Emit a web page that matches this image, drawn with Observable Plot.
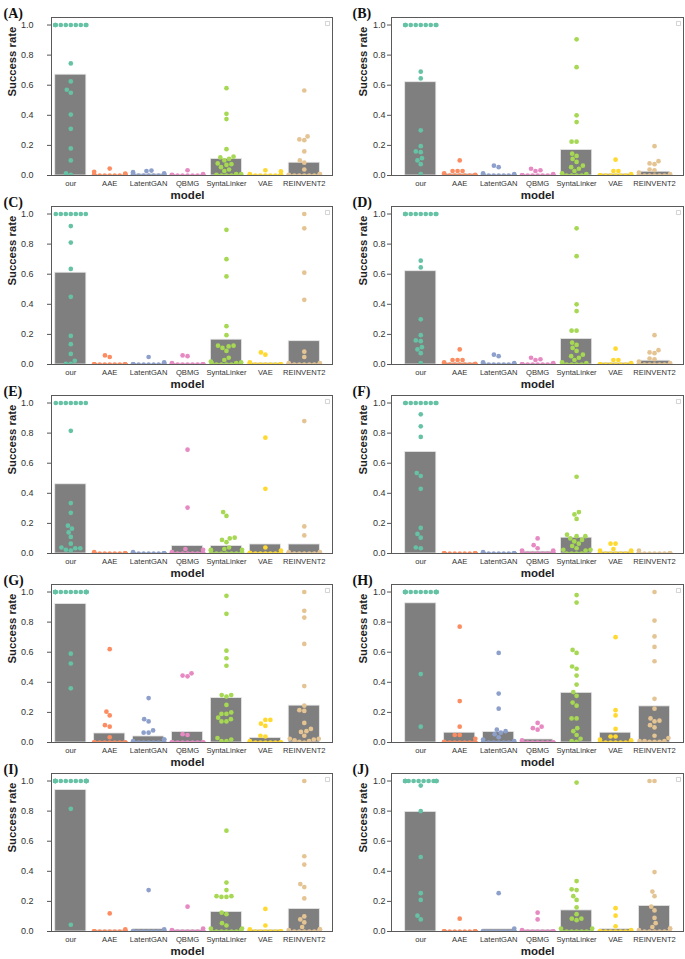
<!DOCTYPE html>
<html><head><meta charset="utf-8">
<script src="https://cdn.jsdelivr.net/npm/d3@7"></script>
<script src="https://cdn.jsdelivr.net/npm/@observablehq/plot@0.6"></script>
<style>
html,body{margin:0;padding:0;background:#fff;}
#fig{position:relative;width:685px;height:959px;overflow:hidden;background:#fff;}
#fig > div{position:absolute;}
</style></head><body><div id="fig"></div>
<script>
const models = ["our","AAE","LatentGAN","QBMG","SyntaLinker","VAE","REINVENT2"];
const colors = ["#66c2a5","#fc8d62","#8da0cb","#e78ac3","#a6d854","#ffd92f","#e5c494"];
const yTicks = [0, 0.2, 0.4, 0.6, 0.8, 1.0];
const panelLetters = ["(A)","(B)","(C)","(D)","(E)","(F)","(G)","(H)","(I)","(J)"];
const xLabel = "model";
const yLabel = "Success rate";

// bar heights (mean success rate) per panel, in model order
const barsA = [0.67, 0.005, 0.008, 0.004, 0.11, 0.005, 0.085];
const barsB = [0.62, 0.01, 0.006, 0.006, 0.17, 0.009, 0.025];
const barsC = [0.61, 0.006, 0.003, 0.006, 0.165, 0.008, 0.155];
const barsD = [0.62, 0.01, 0.006, 0.006, 0.17, 0.009, 0.025];
const barsE = [0.46, 0.001, 0.001, 0.05, 0.05, 0.06, 0.06];
const barsF = [0.675, 0, 0.001, 0.012, 0.105, 0.01, 0.001];
const barsG = [0.92, 0.06, 0.04, 0.07, 0.295, 0.03, 0.245];
const barsH = [0.925, 0.065, 0.07, 0.02, 0.33, 0.065, 0.24];
const barsI = [0.94, 0.007, 0.015, 0.01, 0.13, 0.01, 0.15];
const barsJ = [0.795, 0.004, 0.014, 0.01, 0.14, 0.015, 0.17];

// individual success rates per panel: [our, AAE, LatentGAN, QBMG, SyntaLinker, VAE, REINVENT2]
const dotsA = [
  [1,1,1,1,1,1,1,1,1,1,0.745,0.625,0.57,0.55,0.405,0.31,0.18,0.1,0.015,0.005],
  [0.046,0.025,0.012,0.01,0.005,0,0,0,0,0,0,0,0,0,0,0,0,0,0,0],
  [0.033,0.03,0.022,0.015,0.01,0.005,0,0,0,0,0,0,0,0,0,0,0,0,0,0],
  [0.035,0.01,0.005,0,0,0,0,0,0,0,0,0,0,0,0,0,0,0,0,0],
  [0.58,0.41,0.375,0.175,0.125,0.12,0.11,0.1,0.08,0.075,0.07,0.055,0.04,0.03,0.01,0.01,0.005,0,0,0],
  [0.035,0.027,0.01,0.005,0,0,0,0,0,0,0,0,0,0,0,0,0,0,0,0],
  [0.565,0.26,0.24,0.235,0.16,0.1,0.085,0.04,0.01,0.01,0.005,0,0,0,0,0,0,0,0,0]
];
const dotsB = [
  [1,1,1,1,1,1,1,1,1,1,0.69,0.645,0.3,0.195,0.16,0.155,0.115,0.1,0.075,0.01],
  [0.1,0.03,0.03,0.03,0.015,0.005,0,0,0,0,0,0,0,0,0,0,0,0,0,0],
  [0.065,0.055,0.015,0.01,0,0,0,0,0,0,0,0,0,0,0,0,0,0,0,0],
  [0.045,0.035,0.03,0.01,0,0,0,0,0,0,0,0,0,0,0,0,0,0,0,0],
  [0.905,0.72,0.4,0.355,0.225,0.225,0.145,0.13,0.11,0.09,0.065,0.055,0.045,0.03,0.015,0.01,0,0,0,0],
  [0.105,0.03,0.03,0.01,0,0,0,0,0,0,0,0,0,0,0,0,0,0,0,0],
  [0.195,0.095,0.08,0.075,0.04,0.035,0.02,0.01,0.005,0,0,0,0,0,0,0,0,0,0,0]
];
const dotsC = [
  [1,1,1,1,1,1,1,0.92,0.81,0.635,0.45,0.19,0.135,0.07,0.025,0.005,0.005],
  [0.06,0.05,0,0,0,0,0,0,0,0,0,0,0,0,0,0,0,0,0,0],
  [0.05,0.015,0,0,0,0,0,0,0,0,0,0,0,0,0,0,0,0,0,0],
  [0.06,0.055,0.01,0,0,0,0,0,0,0,0,0,0,0,0,0,0,0,0,0],
  [0.895,0.7,0.585,0.255,0.195,0.125,0.125,0.12,0.11,0.09,0.045,0.03,0.02,0.015,0.01,0.01,0,0,0,0],
  [0.08,0.065,0.015,0,0,0,0,0,0,0,0,0,0,0,0,0,0,0,0,0],
  [1,0.905,0.61,0.43,0.085,0.05,0.01,0.01,0,0,0,0,0,0,0,0,0,0,0,0]
];
const dotsD = [
  [1,1,1,1,1,1,1,1,1,1,0.69,0.645,0.3,0.195,0.16,0.155,0.115,0.1,0.075,0.01],
  [0.1,0.03,0.03,0.03,0.015,0.005,0,0,0,0,0,0,0,0,0,0,0,0,0,0],
  [0.065,0.055,0.015,0.01,0,0,0,0,0,0,0,0,0,0,0,0,0,0,0,0],
  [0.045,0.035,0.03,0.01,0,0,0,0,0,0,0,0,0,0,0,0,0,0,0,0],
  [0.905,0.72,0.4,0.355,0.225,0.225,0.145,0.13,0.11,0.09,0.065,0.055,0.045,0.03,0.015,0.01,0,0,0,0],
  [0.105,0.03,0.03,0.01,0,0,0,0,0,0,0,0,0,0,0,0,0,0,0,0],
  [0.195,0.095,0.08,0.075,0.04,0.035,0.02,0.01,0.005,0,0,0,0,0,0,0,0,0,0,0]
];
const dotsE = [
  [1,1,1,1,1,1,1,0.815,0.335,0.27,0.185,0.165,0.14,0.11,0.065,0.04,0.035,0.035,0.025,0.02],
  [0.01,0,0,0,0,0,0,0,0,0,0,0,0,0,0,0,0,0,0,0],
  [0.01,0,0,0,0,0,0,0,0,0,0,0,0,0,0,0,0,0,0,0],
  [0.69,0.305,0.03,0.025,0.01,0,0,0,0,0,0,0,0,0,0,0,0,0,0,0],
  [0.275,0.25,0.105,0.1,0.09,0.075,0.04,0.03,0.025,0.025,0.02,0.01,0,0,0,0,0,0,0,0],
  [0.77,0.43,0.04,0.02,0.005,0,0,0,0,0,0,0,0,0,0,0,0,0,0,0],
  [0.88,0.18,0.12,0.01,0.01,0,0,0,0,0,0,0,0,0,0,0,0,0,0,0]
];
const dotsF = [
  [1,1,1,1,1,1,1,1,1,0.925,0.845,0.775,0.535,0.515,0.43,0.17,0.13,0.105,0.04,0.035],
  [0,0,0,0,0,0,0,0,0,0,0,0,0,0,0,0,0,0,0,0],
  [0.01,0,0,0,0,0,0,0,0,0,0,0,0,0,0,0,0,0,0,0],
  [0.1,0.055,0.035,0.02,0.02,0.01,0,0,0,0,0,0,0,0,0,0,0,0,0,0],
  [0.51,0.275,0.26,0.23,0.125,0.115,0.115,0.1,0.09,0.08,0.065,0.05,0.035,0.025,0.025,0.02,0,0,0,0],
  [0.065,0.065,0.03,0.02,0.02,0.01,0,0,0,0,0,0,0,0,0,0,0,0,0,0],
  [0.02,0,0,0,0,0,0,0,0,0,0,0,0,0,0,0,0,0,0,0]
];
const dotsG = [
  [1,1,1,1,1,1,1,1,1,1,1,1,1,1,1,1,1,0.59,0.525,0.36],
  [0.62,0.205,0.18,0.115,0.105,0.035,0,0,0,0,0,0,0,0,0,0,0,0,0,0],
  [0.295,0.155,0.14,0.08,0.065,0.065,0.02,0.02,0.01,0,0,0,0,0,0,0,0,0,0,0],
  [0.46,0.445,0.44,0.055,0.05,0,0,0,0,0,0,0,0,0,0,0,0,0,0,0],
  [0.975,0.855,0.61,0.56,0.51,0.315,0.315,0.305,0.25,0.2,0.19,0.19,0.165,0.155,0.14,0.14,0.03,0.02,0.01,0.01],
  [0.15,0.15,0.125,0.11,0.045,0.04,0.01,0,0,0,0,0,0,0,0,0,0,0,0,0],
  [1,0.875,0.83,0.655,0.375,0.245,0.215,0.21,0.13,0.09,0.075,0.07,0.045,0.025,0.025,0.02,0.015,0.01,0.005,0]
];
const dotsH = [
  [1,1,1,1,1,1,1,1,1,1,1,1,1,1,1,1,1,1,0.455,0.105],
  [0.77,0.275,0.105,0.05,0.05,0.025,0.005,0,0,0,0,0,0,0,0,0,0,0,0,0],
  [0.595,0.325,0.225,0.085,0.075,0.065,0.055,0.035,0.02,0.01,0,0,0,0,0,0,0,0,0,0],
  [0.13,0.105,0.095,0.085,0.015,0,0,0,0,0,0,0,0,0,0,0,0,0,0,0],
  [0.98,0.93,0.615,0.595,0.505,0.49,0.445,0.385,0.335,0.31,0.265,0.245,0.16,0.16,0.095,0.075,0.05,0.025,0.01,0.005],
  [0.7,0.215,0.18,0.09,0.04,0.04,0.02,0.015,0,0,0,0,0,0,0,0,0,0,0,0],
  [1,0.81,0.705,0.635,0.54,0.29,0.225,0.16,0.145,0.14,0.115,0.1,0.045,0.03,0.01,0.01,0.01,0.005,0.005,0.005]
];
const dotsI = [
  [1,1,1,1,1,1,1,1,1,1,1,1,1,1,1,1,1,1,0.815,0.045],
  [0.12,0.015,0,0,0,0,0,0,0,0,0,0,0,0,0,0,0,0,0,0],
  [0.275,0.015,0,0,0,0,0,0,0,0,0,0,0,0,0,0,0,0,0,0],
  [0.165,0.02,0.01,0,0,0,0,0,0,0,0,0,0,0,0,0,0,0,0,0],
  [0.67,0.325,0.275,0.235,0.235,0.23,0.23,0.125,0.115,0.055,0.04,0.02,0.02,0.01,0,0,0,0,0,0],
  [0.15,0.04,0.015,0,0,0,0,0,0,0,0,0,0,0,0,0,0,0,0,0],
  [1,0.5,0.445,0.315,0.295,0.22,0.1,0.08,0.06,0.03,0.015,0.015,0.01,0,0,0,0,0,0,0]
];
const dotsJ = [
  [1,1,1,1,1,1,1,1,1,1,1,1,1,0.97,0.8,0.495,0.255,0.21,0.105,0.08],
  [0.085,0,0,0,0,0,0,0,0,0,0,0,0,0,0,0,0,0,0,0],
  [0.255,0.02,0,0,0,0,0,0,0,0,0,0,0,0,0,0,0,0,0,0],
  [0.125,0.08,0.01,0,0,0,0,0,0,0,0,0,0,0,0,0,0,0,0,0],
  [0.99,0.335,0.28,0.275,0.235,0.21,0.16,0.115,0.085,0.085,0.075,0.02,0.02,0,0,0,0,0,0,0],
  [0.155,0.105,0.035,0.01,0,0,0,0,0,0,0,0,0,0,0,0,0,0,0,0],
  [1,1,0.395,0.265,0.235,0.165,0.14,0.09,0.055,0.03,0.02,0.02,0.01,0,0,0,0,0,0,0]
];

const allBars = [barsA, barsB, barsC, barsD, barsE, barsF, barsG, barsH, barsI, barsJ];
const allDots = [dotsA, dotsB, dotsC, dotsD, dotsE, dotsF, dotsG, dotsH, dotsI, dotsJ];

const DOT_R = 2.35, SPACING = 5, Y_MAX = 1.05;

// beeswarm layout (seaborn-like): returns pixel offsets from category centre
function swarm(vals, pxPerY, half) {
  const pts = vals.map((v, j) => ({j, y: v * pxPerY, x: 0}));
  const order = pts.slice().sort((a, b) => a.y - b.y);
  const placed = [];
  const d2 = SPACING * SPACING;
  for (const p of order) {
    const near = placed.filter(q => Math.abs(q.y - p.y) < SPACING);
    const cands = [0];
    for (const q of near) {
      const h = Math.sqrt(d2 - (q.y - p.y) ** 2);
      cands.push(q.x - h, q.x + h);
    }
    cands.sort((a, b) => Math.abs(a) - Math.abs(b));
    let best = cands[0];
    for (const c of cands) {
      if (near.every(q => (q.x - c) ** 2 + (q.y - p.y) ** 2 >= d2 - 1e-6)) { best = c; break; }
    }
    p.x = best;
    placed.push(p);
  }
  return pts.map(p => Math.max(-half, Math.min(half, p.x)));
}

const fig = document.getElementById("fig");
const FONT = "'Liberation Sans', Arial, Helvetica, sans-serif";

allBars.forEach((bars, k) => {
  const col = k % 2, row = Math.floor(k / 2);
  const width = col ? 345 : 340;
  const mL = 51, mR = col ? 2 : 8, mT = 17, mB = 36, H = 211;
  const xDom = col ? [-0.751, 6.744] : [-0.496, 6.725];
  const fw = width - mL - mR, fh = H - mT - mB;
  const stepPx = fw / (xDom[1] - xDom[0]);
  const pxPerY = fh / Y_MAX;
  const half = 0.4 * stepPx;

  const dotRows = [];
  allDots[k].forEach((vals, i) => {
    const offs = swarm(vals, pxPerY, half);
    vals.forEach((v, j) => dotRows.push({model: models[i], x: i + offs[j] / stepPx, y: v}));
  });
  const barRows = bars.map((v, i) => ({model: models[i], x1: i - 0.4, x2: i + 0.4, y: v}));

  const svg = Plot.plot({
    width, height: H,
    marginLeft: mL, marginRight: mR, marginTop: mT, marginBottom: mB,
    style: `background: transparent; overflow: visible; font-family: ${FONT};`,
    x: {type: "linear", domain: xDom, axis: null},
    y: {type: "linear", domain: [0, Y_MAX], axis: null},
    color: {domain: models, range: colors},
    marks: [
      Plot.rectY(barRows, {x1: "x1", x2: "x2", y1: 0, y2: "y", fill: "#7f7f7f", stroke: "#e8e8e8", strokeWidth: 0.8}),
      Plot.dot(dotRows, {x: "x", y: "y", r: DOT_R, fill: "model", clip: true}),
      Plot.axisY(yTicks, {tickFormat: d3.format(".1f"), tickSize: 4, tickPadding: col ? 2 : 14,
        fontSize: 9, stroke: "#555", fill: "#333", label: null}),
      Plot.axisX(models.map((m, i) => i), {tickFormat: i => models[i], tickSize: 0, tickPadding: 5,
        fontSize: 7.6, fill: "#333", label: null}),
      Plot.text([{t: xLabel, x: 3}], {text: "t", x: "x", frameAnchor: "bottom", dy: 23,
        fontWeight: "bold", fontSize: 11.5, fill: "#222"}),
      Plot.text([{t: yLabel}], {text: "t", frameAnchor: "left", rotate: -90, dx: col ? -28 : -39.5,
        fontWeight: "bold", fontSize: 11.3, fill: "#222"}),
      Plot.text([{t: panelLetters[k]}], {text: "t", frameAnchor: "top-left", dx: col ? -39 : -48, dy: -9,
        textAnchor: "start", fontFamily: "'Liberation Serif', 'Times New Roman', serif",
        fontWeight: "bold", fontSize: 14, fill: "#111"}),
      Plot.dot([0], {frameAnchor: "top-right", dx: -5, dy: 6, r: 2.3, symbol: "square",
        stroke: "#c8c8c8", fill: "white", strokeWidth: 0.8}),
      Plot.frame({stroke: "#5a5a5a", strokeWidth: 1})
    ]
  });
  const holder = document.createElement("div");
  holder.style.left = (col ? 340 : 0) + "px";
  holder.style.top = (189.1 * row) + "px";
  holder.style.width = width + "px";
  holder.appendChild(svg);
  fig.appendChild(holder);
});
</script>
</body></html>
